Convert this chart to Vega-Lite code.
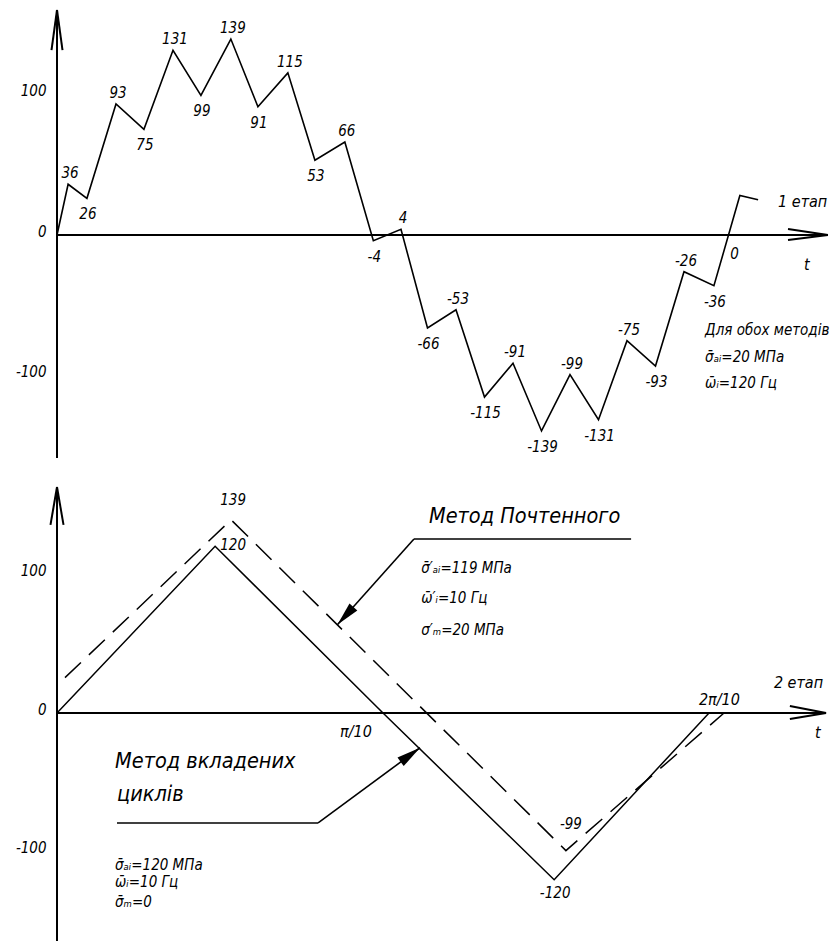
{
  "$schema": "https://vega.github.io/schema/vega-lite/v6.json",
  "background": "white",
  "padding": 0,
  "spacing": 10,
  "config": {
    "locale": {"number": {"decimal": ".", "thousands": ",", "grouping": [3], "currency": ["", ""], "minus": "-"}},
    "view": {"stroke": null},
    "font": "DejaVu Sans Condensed, Liberation Sans Narrow, DejaVu Sans, sans-serif",
    "text": {"font": "DejaVu Sans Condensed, Liberation Sans Narrow, DejaVu Sans, sans-serif", "fontStyle": "italic", "color": "black"},
    "axis": {
      "domain": false, "ticks": false, "tickSize": 0, "grid": false, "title": null,
      "labelFont": "DejaVu Sans Condensed, Liberation Sans Narrow, DejaVu Sans, sans-serif",
      "labelFontStyle": "italic", "labelFontSize": 15, "labelColor": "black",
      "labelPadding": 11, "labelOffset": -4, "minExtent": 57, "maxExtent": 57,
      "labelFlush": false, "labelOverlap": false
    }
  },
  "datasets": {
    "stage1": [
      {"t": 0, "v": 0, "kind": "start"},
      {"t": 0.39, "v": 36, "kind": "peak"},
      {"t": 1.05, "v": 26, "kind": "trough"},
      {"t": 2.07, "v": 93, "kind": "peak"},
      {"t": 3.05, "v": 75, "kind": "trough"},
      {"t": 4.07, "v": 131, "kind": "peak"},
      {"t": 5.05, "v": 99, "kind": "trough"},
      {"t": 6.1, "v": 139, "kind": "peak"},
      {"t": 7.05, "v": 91, "kind": "trough"},
      {"t": 8.1, "v": 115, "kind": "peak"},
      {"t": 9.05, "v": 53, "kind": "trough"},
      {"t": 10.1, "v": 66, "kind": "peak"},
      {"t": 11.1, "v": -4, "kind": "trough"},
      {"t": 12.07, "v": 4, "kind": "peak"},
      {"t": 13.0, "v": -66, "kind": "trough"},
      {"t": 14.0, "v": -53, "kind": "peak"},
      {"t": 15.0, "v": -115, "kind": "trough"},
      {"t": 16.0, "v": -91, "kind": "peak"},
      {"t": 17.0, "v": -139, "kind": "trough"},
      {"t": 18.0, "v": -99, "kind": "peak"},
      {"t": 19.0, "v": -131, "kind": "trough"},
      {"t": 20.0, "v": -75, "kind": "peak"},
      {"t": 21.0, "v": -93, "kind": "trough"},
      {"t": 22.0, "v": -26, "kind": "peak"},
      {"t": 23.05, "v": -36, "kind": "trough"},
      {"t": 23.96, "v": 28, "kind": "end"},
      {"t": 24.6, "v": 25, "kind": "end"}
    ],
    "stage1_zero": [
      {"t": 23.6, "v": 0}
    ],
    "frame1": [
      {"part": "y axis", "t": 0, "v": -158.2, "t2": 0, "v2": 159.6},
      {"part": "y arrow", "t": -0.193, "v": 131.2, "t2": 0, "v2": 159.6},
      {"part": "y arrow", "t": 0.193, "v": 131.2, "t2": 0, "v2": 159.6},
      {"part": "t axis", "t": 0, "v": 0, "t2": 27.05, "v2": 0},
      {"part": "t arrow", "t": 25.65, "v": 4.3, "t2": 27.05, "v2": 0},
      {"part": "t arrow", "t": 25.65, "v": -3.6, "t2": 27.05, "v2": 0}
    ],
    "notes1": [
      {"role": "label", "t": 25.3, "v": 23.4, "text": "1 етап"},
      {"role": "label", "t": 26.21, "v": -21.3, "text": "t"},
      {"role": "param", "t": 22.74, "v": -67.4, "text": "Для обох методів"},
      {"role": "param", "t": 22.74, "v": -86.5, "text": "σ̄ₐᵢ=20 МПа"},
      {"role": "param", "t": 22.74, "v": -105.0, "text": "ω̄ᵢ=120 Гц"}
    ],
    "stage2": [
      {"method": "nested", "t": 0, "v": 0, "kind": "start"},
      {"method": "nested", "t": 0.485, "v": 120, "kind": "peak"},
      {"method": "nested", "t": 1.0, "v": 0, "kind": "cross"},
      {"method": "nested", "t": 1.525, "v": -120, "kind": "trough"},
      {"method": "nested", "t": 2.0, "v": 0, "kind": "end"},
      {"method": "pochtennyi", "t": 0, "v": 20, "kind": "start"},
      {"method": "pochtennyi", "t": 0.534, "v": 139, "kind": "peak"},
      {"method": "pochtennyi", "t": 1.561, "v": -99, "kind": "trough"},
      {"method": "pochtennyi", "t": 2.046, "v": 0, "kind": "end"}
    ],
    "frame2": [
      {"part": "y axis", "t": 0, "v": -164.0, "t2": 0, "v2": 162.6},
      {"part": "y arrow", "t": -0.02, "v": 135.3, "t2": 0, "v2": 162.6},
      {"part": "y arrow", "t": 0.02, "v": 135.3, "t2": 0, "v2": 162.6},
      {"part": "t axis", "t": 0, "v": 0, "t2": 2.359, "v2": 0},
      {"part": "t arrow", "t": 2.248, "v": 5.0, "t2": 2.359, "v2": 0},
      {"part": "t arrow", "t": 2.248, "v": -4.3, "t2": 2.359, "v2": 0}
    ],
    "leaders2": [
      {"callout": "pochtennyi", "t": 1.761, "v": 125.2, "t2": 1.095, "v2": 125.2},
      {"callout": "pochtennyi", "t": 1.095, "v": 125.2, "t2": 0.86, "v2": 63.5},
      {"callout": "nested", "t": 0.184, "v": -79.1, "t2": 0.801, "v2": -79.1},
      {"callout": "nested", "t": 0.801, "v": -79.1, "t2": 1.1135, "v2": -25.0}
    ],
    "tips2": [
      {"callout": "pochtennyi", "t": 0.86, "v": 63.5},
      {"callout": "nested", "t": 1.1135, "v": -25.0}
    ],
    "notes2": [
      {"role": "title", "t": 1.141, "v": 141.0, "text": "Метод Почтенного"},
      {"role": "param", "t": 1.117, "v": 104.3, "text": "σ̄′ₐᵢ=119 МПа"},
      {"role": "param", "t": 1.117, "v": 82.7, "text": "ω̄′ᵢ=10 Гц"},
      {"role": "param", "t": 1.117, "v": 59.7, "text": "σ′ₘ=20 МПа"},
      {"role": "title", "t": 0.178, "v": -35.3, "text": "Метод вкладених"},
      {"role": "title", "t": 0.184, "v": -59.0, "text": "циклів"},
      {"role": "param", "t": 0.178, "v": -109.4, "text": "σ̄ₐᵢ=120 МПа"},
      {"role": "param", "t": 0.178, "v": -121.6, "text": "ω̄ᵢ=10 Гц"},
      {"role": "param", "t": 0.178, "v": -136.0, "text": "σ̄ₘ=0"},
      {"role": "label", "t": 2.199, "v": 21.6, "text": "2 етап"},
      {"role": "label", "t": 2.325, "v": -14.4, "text": "t"},
      {"role": "label", "t": 0.868, "v": -13.7, "text": "π/10"},
      {"role": "label", "t": 1.969, "v": 9.4, "text": "2π/10"}
    ]
  },
  "vconcat": [
    {
      "width": 774,
      "height": 470,
      "encoding": {
        "x": {"field": "t", "type": "quantitative", "scale": {"domain": [0, 27.158], "nice": false, "zero": false}, "axis": null},
        "y": {"field": "v", "type": "quantitative", "scale": {"domain": [-166.7, 166.7], "nice": false, "zero": false}, "axis": {"values": [-100, 0, 100]}}
      },
      "layer": [
        {
          "data": {"name": "frame1"},
          "mark": {"type": "rule", "color": "black", "strokeWidth": 2},
          "encoding": {"x2": {"field": "t2"}, "y2": {"field": "v2"}}
        },
        {
          "data": {"name": "stage1"},
          "mark": {"type": "line", "color": "black", "strokeWidth": 1.6}
        },
        {
          "data": {"name": "stage1"},
          "transform": [{"filter": "datum.kind === 'peak'"}],
          "mark": {"type": "text", "fontSize": 15, "dx": 2, "dy": -11},
          "encoding": {"text": {"field": "v", "type": "quantitative", "format": "d"}}
        },
        {
          "data": {"name": "stage1"},
          "transform": [{"filter": "datum.kind === 'trough'"}],
          "mark": {"type": "text", "fontSize": 15, "dx": 1, "dy": 16},
          "encoding": {"text": {"field": "v", "type": "quantitative", "format": "d"}}
        },
        {
          "data": {"name": "stage1_zero"},
          "mark": {"type": "text", "fontSize": 15, "dx": 5, "dy": 19},
          "encoding": {"text": {"field": "v", "type": "quantitative", "format": "d"}}
        },
        {
          "data": {"name": "notes1"},
          "transform": [{"filter": "datum.role === 'label'"}],
          "mark": {"type": "text", "fontSize": 16, "align": "left", "baseline": "middle"},
          "encoding": {"text": {"field": "text"}}
        },
        {
          "data": {"name": "notes1"},
          "transform": [{"filter": "datum.role === 'param'"}],
          "mark": {"type": "text", "fontSize": 15, "align": "left", "baseline": "middle"},
          "encoding": {"text": {"field": "text"}}
        }
      ]
    },
    {
      "width": 774,
      "height": 461,
      "encoding": {
        "x": {"field": "t", "type": "quantitative", "scale": {"domain": [0, 2.3742], "nice": false, "zero": false}, "axis": null},
        "y": {"field": "v", "type": "quantitative", "scale": {"domain": [-164.03, 167.63], "nice": false, "zero": false}, "axis": {"values": [-100, 0, 100]}}
      },
      "layer": [
        {
          "data": {"name": "frame2"},
          "mark": {"type": "rule", "color": "black", "strokeWidth": 2},
          "encoding": {"x2": {"field": "t2"}, "y2": {"field": "v2"}}
        },
        {
          "data": {"name": "leaders2"},
          "mark": {"type": "rule", "color": "black", "strokeWidth": 1.6},
          "encoding": {"x2": {"field": "t2"}, "y2": {"field": "v2"}}
        },
        {
          "data": {"name": "tips2"},
          "transform": [{"filter": "datum.callout === 'pochtennyi'"}],
          "mark": {"type": "point", "shape": "M0,0L-0.22,1L0.22,1Z", "size": 2300, "angle": 222, "filled": true, "color": "black", "opacity": 1}
        },
        {
          "data": {"name": "tips2"},
          "transform": [{"filter": "datum.callout === 'nested'"}],
          "mark": {"type": "point", "shape": "M0,0L-0.22,1L0.22,1Z", "size": 2300, "angle": 54, "filled": true, "color": "black", "opacity": 1}
        },
        {
          "data": {"name": "stage2"},
          "transform": [{"filter": "datum.method === 'nested'"}],
          "mark": {"type": "line", "color": "black", "strokeWidth": 1.5}
        },
        {
          "data": {"name": "stage2"},
          "transform": [{"filter": "datum.method === 'pochtennyi'"}],
          "mark": {"type": "line", "color": "black", "strokeWidth": 1.5, "strokeDash": [22, 11], "strokeDashOffset": 22}
        },
        {
          "data": {"name": "stage2"},
          "transform": [{"filter": "datum.method === 'pochtennyi' && datum.kind === 'peak'"}],
          "mark": {"type": "text", "fontSize": 15, "dx": 2, "dy": -20},
          "encoding": {"text": {"field": "v", "type": "quantitative", "format": "d"}}
        },
        {
          "data": {"name": "stage2"},
          "transform": [{"filter": "datum.method === 'nested' && datum.kind === 'peak'"}],
          "mark": {"type": "text", "fontSize": 15, "dx": 18, "dy": -1},
          "encoding": {"text": {"field": "v", "type": "quantitative", "format": "d"}}
        },
        {
          "data": {"name": "stage2"},
          "transform": [{"filter": "datum.method === 'pochtennyi' && datum.kind === 'trough'"}],
          "mark": {"type": "text", "fontSize": 15, "dx": 5, "dy": -27},
          "encoding": {"text": {"field": "v", "type": "quantitative", "format": "d"}}
        },
        {
          "data": {"name": "stage2"},
          "transform": [{"filter": "datum.method === 'nested' && datum.kind === 'trough'"}],
          "mark": {"type": "text", "fontSize": 15, "dx": 1, "dy": 13},
          "encoding": {"text": {"field": "v", "type": "quantitative", "format": "d"}}
        },
        {
          "data": {"name": "notes2"},
          "transform": [{"filter": "datum.role === 'title'"}],
          "mark": {"type": "text", "fontSize": 21.5, "align": "left", "baseline": "middle"},
          "encoding": {"text": {"field": "text"}}
        },
        {
          "data": {"name": "notes2"},
          "transform": [{"filter": "datum.role === 'param'"}],
          "mark": {"type": "text", "fontSize": 15, "align": "left", "baseline": "middle"},
          "encoding": {"text": {"field": "text"}}
        },
        {
          "data": {"name": "notes2"},
          "transform": [{"filter": "datum.role === 'label'"}],
          "mark": {"type": "text", "fontSize": 16, "align": "left", "baseline": "middle"},
          "encoding": {"text": {"field": "text"}}
        }
      ]
    }
  ]
}
